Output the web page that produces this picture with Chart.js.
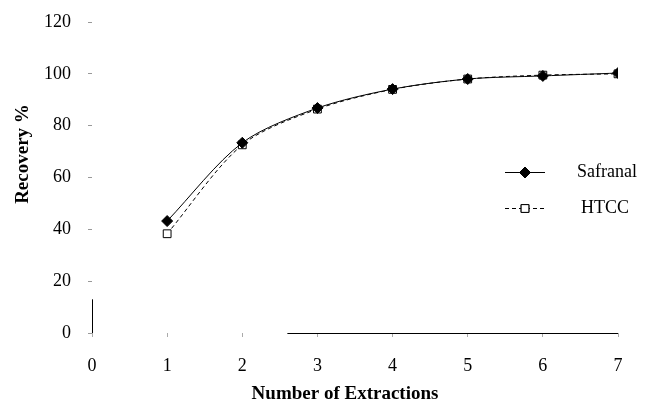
<!DOCTYPE html>
<html>
<head>
<meta charset="utf-8">
<script src="https://cdn.jsdelivr.net/npm/chart.js@4/dist/chart.umd.min.js"></script>
<style>
  html, body { margin: 0; padding: 0; background: #fff; }
  #wrap { width: 657px; height: 402px; }
</style>
</head>
<body>
<div id="wrap"><canvas id="recoveryChart"></canvas></div>
<script>
// Extraction numbers and recovery values
const extractions = [1, 2, 3, 4, 5, 6, 7];
const safranal = [43.2, 73.4, 86.8, 94.1, 98.0, 99.2, 100.3];
const htcc = [38.3, 72.6, 86.4, 94.0, 98.0, 99.5, 100.0];
const yTicks = [0, 20, 40, 60, 80, 100, 120];
const xTicks = [0, 1, 2, 3, 4, 5, 6, 7];
const xTitle = 'Number of Extractions';
const yTitle = 'Recovery %';

const serif = 'Liberation Serif, Times New Roman, serif';

// Scanned axis lines are only partly visible, draw them the same way
const axisPieces = {
    id: 'axisPieces',
    afterDraw(chart) {
        const ctx = chart.ctx;
        const x = chart.scales.x, y = chart.scales.y;
        ctx.save();
        ctx.strokeStyle = '#000';
        ctx.lineWidth = 1;
        ctx.beginPath();
        ctx.moveTo(x.getPixelForValue(0) + 0.5, y.getPixelForValue(0));
        ctx.lineTo(x.getPixelForValue(0) + 0.5, y.getPixelForValue(13));
        ctx.moveTo(x.getPixelForValue(2.6), y.getPixelForValue(0) + 0.5);
        ctx.lineTo(x.getPixelForValue(7), y.getPixelForValue(0) + 0.5);
        ctx.stroke();

        // axis titles, placed a bit off the plot centre like the original
        ctx.fillStyle = '#000';
        ctx.font = 'bold 19px ' + serif;
        ctx.textAlign = 'center';
        ctx.textBaseline = 'middle';
        ctx.fillText(xTitle, chart.chartArea.left + 253, chart.height - 8);
        ctx.translate(23, 154);
        ctx.rotate(-Math.PI / 2);
        ctx.fillText(yTitle, 0, 0);
        ctx.restore();
    }
};

// Legend sits inside the plot on the right side
const sideLegend = {
    id: 'sideLegend',
    afterDraw(chart) {
        const ctx = chart.ctx;
        const area = chart.chartArea;
        const lx = area.right - 113;
        const rows = [172, 208];
        ctx.save();
        chart.data.datasets.forEach((ds, i) => {
            const cy = rows[i];
            ctx.strokeStyle = '#000';
            ctx.lineWidth = 1;
            ctx.setLineDash(ds.borderDash || []);
            ctx.beginPath();
            ctx.moveTo(lx, cy + 0.5);
            ctx.lineTo(lx + 40, cy + 0.5);
            ctx.stroke();
            ctx.setLineDash([]);
            Chart.helpers.drawPoint(ctx, {
                pointStyle: ds.pointStyle,
                radius: ds.pointRadius,
                borderWidth: 1
            }, lx + 20, cy + 0.5);
            ctx.fillStyle = ds.pointBackgroundColor;
            ctx.strokeStyle = '#000';
            ctx.fill();
            ctx.stroke();
            ctx.fillStyle = '#000';
            ctx.font = '18px ' + serif;
            ctx.textBaseline = 'middle';
            ctx.fillText(ds.label, lx + 72 + i * 4, cy);
        });
        ctx.restore();
    }
};

new Chart(document.getElementById('recoveryChart'), {
    type: 'line',
    data: {
        labels: extractions,
        datasets: [
            {
                label: 'Safranal',
                data: extractions.map((e, i) => ({ x: e, y: safranal[i] })),
                borderColor: '#000',
                borderWidth: 1,
                pointStyle: 'rectRot',
                pointRadius: 5.5,
                pointBackgroundColor: '#000',
                pointBorderColor: '#000',
                tension: 0.3,
                order: 0
            },
            {
                label: 'HTCC',
                data: extractions.map((e, i) => ({ x: e, y: htcc[i] })),
                borderColor: '#000',
                borderWidth: 1,
                borderDash: [4, 3],
                pointStyle: 'rect',
                pointRadius: 5.5,
                pointBackgroundColor: '#fff',
                pointBorderColor: '#000',
                tension: 0.3,
                order: 1
            }
        ]
    },
    options: {
        responsive: true,
        maintainAspectRatio: false,
        animation: false,
        layout: { padding: { top: 22, right: 39, left: 0, bottom: 0 } },
        plugins: {
            legend: { display: false },
            tooltip: { enabled: false }
        },
        scales: {
            x: {
                type: 'linear',
                min: 0,
                max: 7,
                afterBuildTicks: s => { s.ticks = xTicks.map(v => ({ value: v })); },
                afterFit: s => { s.height = 69; },
                border: { display: false },
                grid: { drawOnChartArea: false, drawTicks: true, tickLength: 4, color: '#aaa' },
                ticks: { color: '#000', padding: 18, font: { family: serif, size: 18 } }
            },
            y: {
                min: 0,
                max: 120,
                afterBuildTicks: s => { s.ticks = yTicks.map(v => ({ value: v })); },
                // tick padding would otherwise push the plot top down
                afterFit: s => { s.width = 92; s.paddingTop = 0; s.paddingBottom = 0; },
                border: { display: false },
                grid: { drawOnChartArea: false, drawTicks: true, tickLength: 4, color: '#999' },
                ticks: { color: '#000', padding: 17, font: { family: serif, size: 18 } }
            }
        }
    },
    plugins: [axisPieces, sideLegend]
});
</script>
</body>
</html>
